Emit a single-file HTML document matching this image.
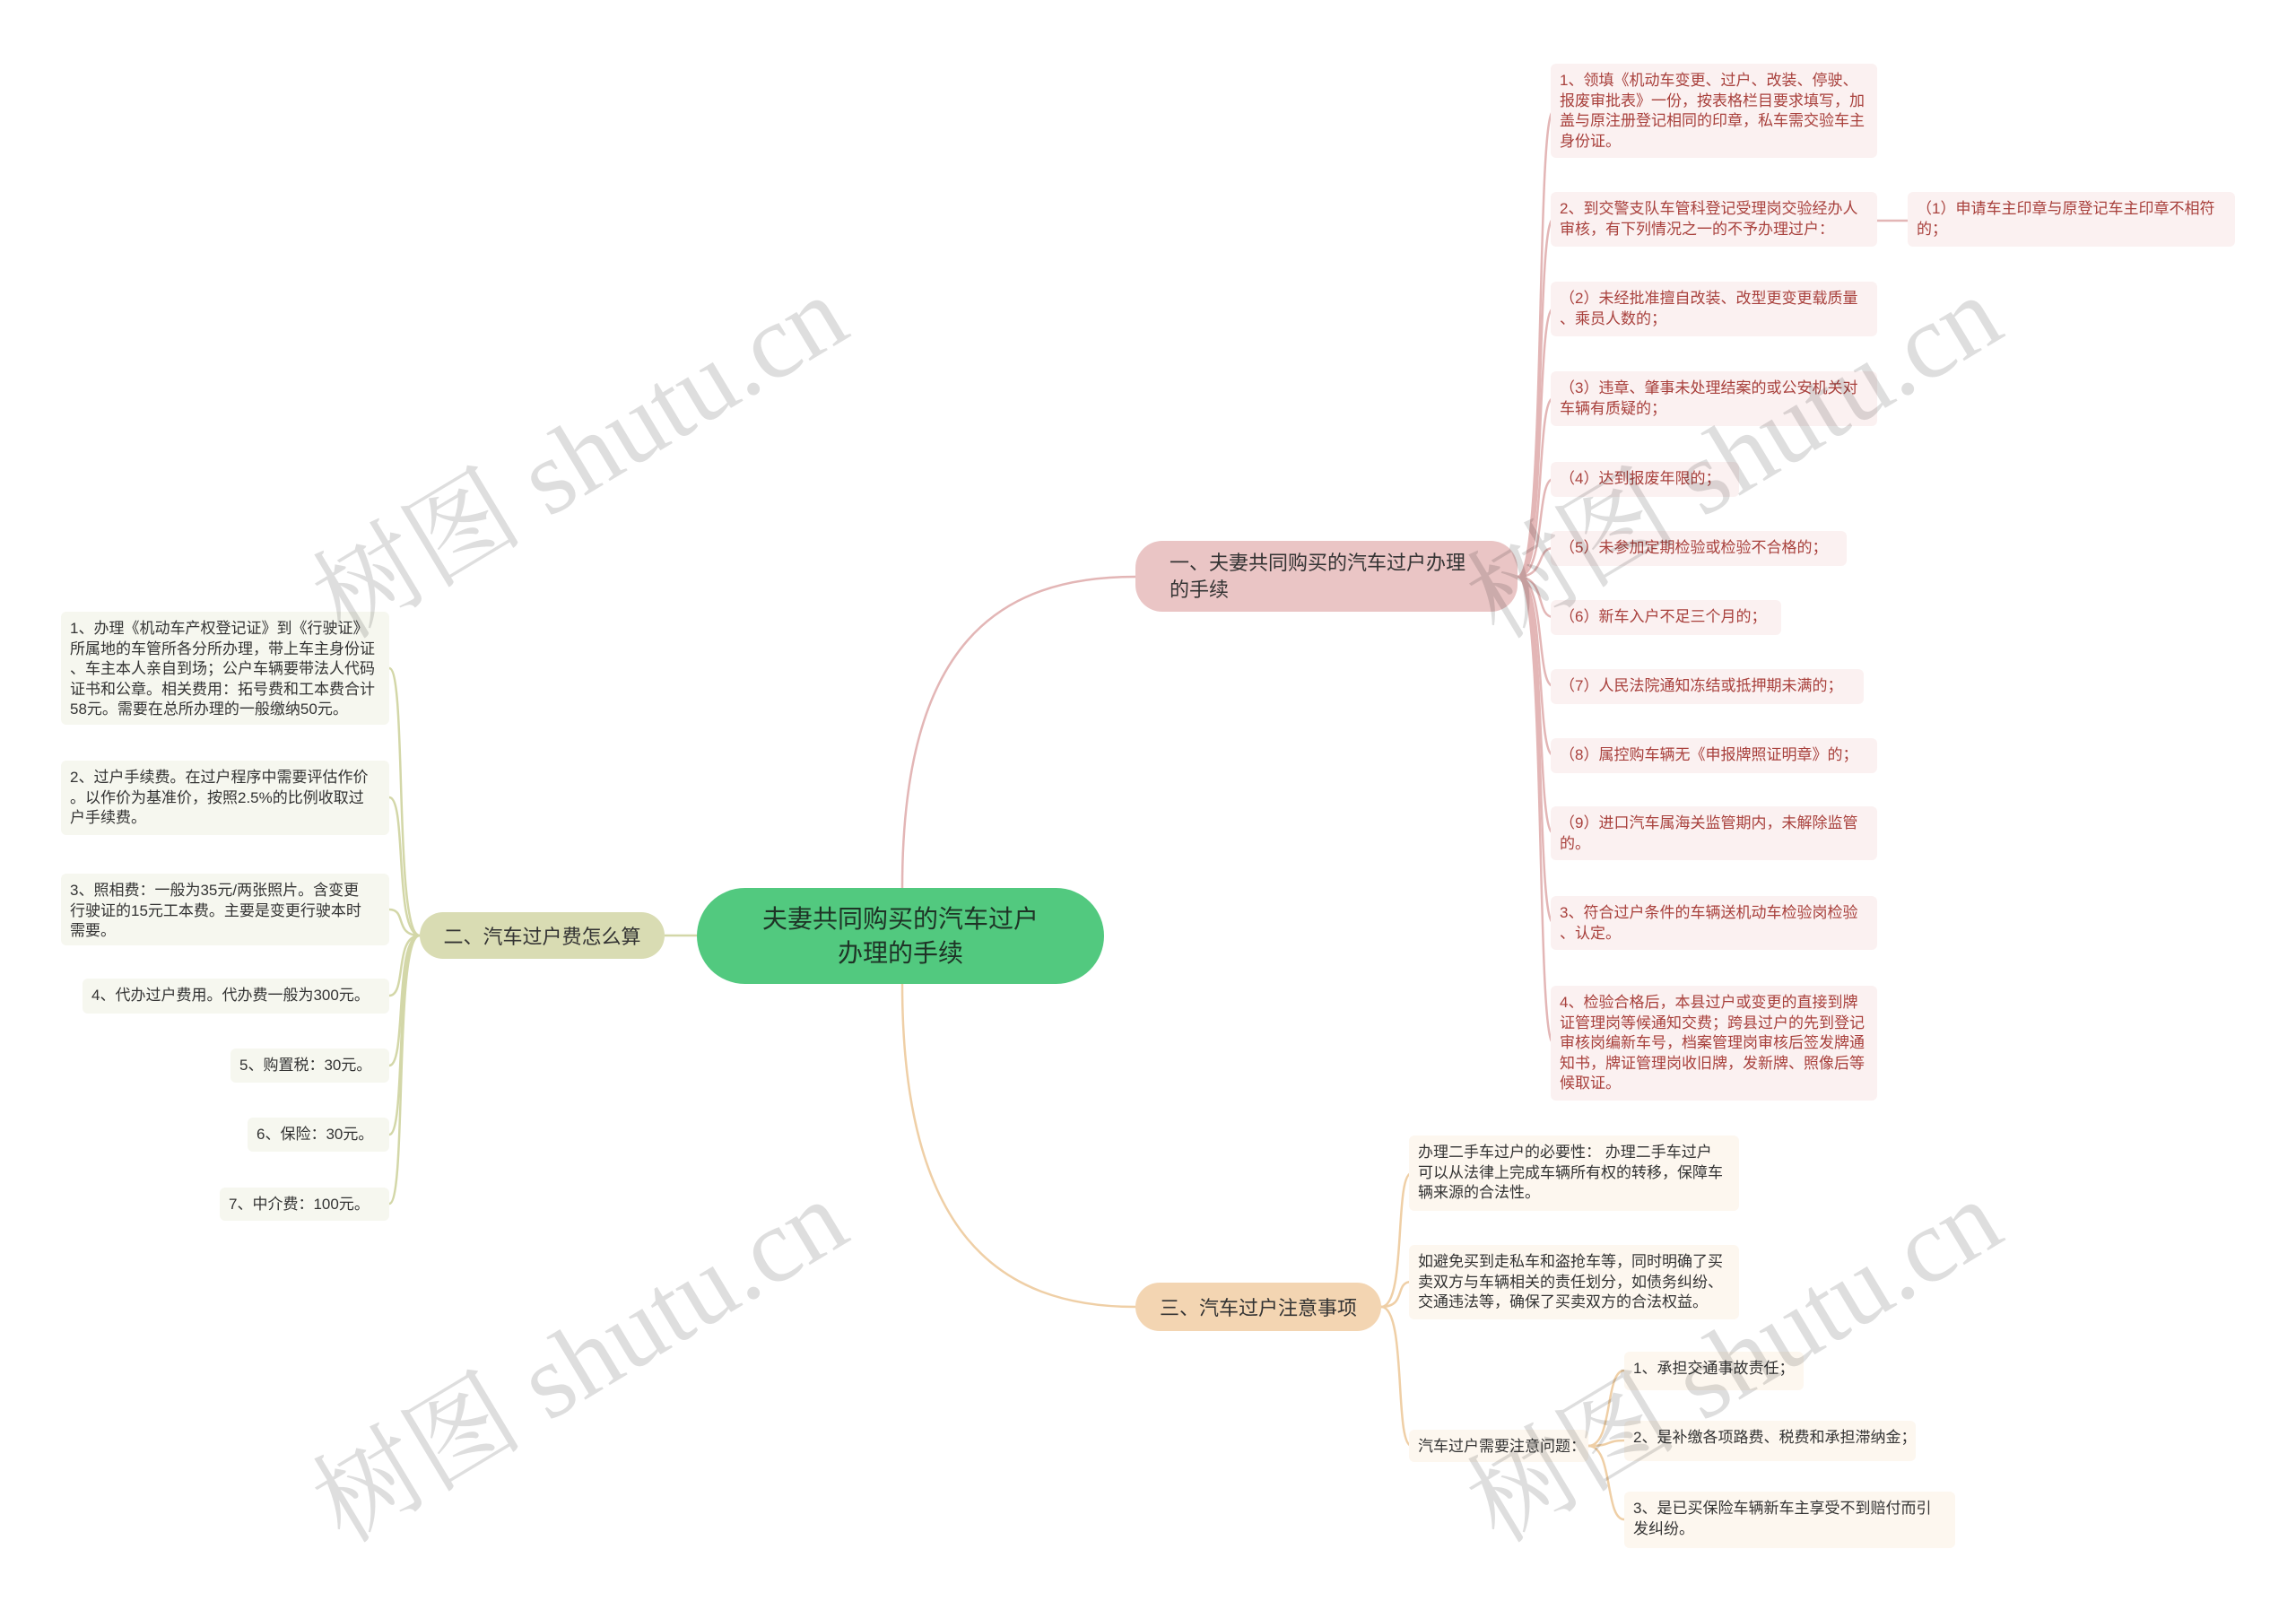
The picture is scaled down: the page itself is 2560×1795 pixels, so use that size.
<!DOCTYPE html>
<html><head><meta charset="utf-8"><style>
body{margin:0;width:2560px;height:1795px;background:#fff;position:relative;overflow:hidden;font-family:"Liberation Sans","Noto Sans CJK SC",sans-serif;}
#w{position:absolute;left:0;top:0;width:2560px;height:1795px;transform:translate(-6px,-4px);}
.n{position:absolute;box-sizing:border-box;white-space:nowrap;font-size:17px;line-height:22.5px;padding:8px 10px;border-radius:6px;}
.r{background:#fbf1f1;color:#a8403c;}
.g{background:#f6f7ef;color:#333;}
.o{background:#fdf7ef;color:#333;}
.b{position:absolute;box-sizing:border-box;border-radius:30px;display:flex;align-items:center;font-size:22px;color:#333;white-space:nowrap;}
.wm{position:absolute;font-family:"Liberation Serif","Noto Serif CJK SC",serif;font-size:118px;color:rgba(0,0,0,0.13);transform:rotate(-31deg);white-space:nowrap;transform-origin:center;}
</style></head><body><div id="w">
<svg width="2560" height="1795" style="position:absolute;left:0;top:0" fill="none" stroke-width="2.5">
<g stroke="#e3b6b6">
<path d="M1012,994 C1012,720 1120,647 1272,647"/>
<path d="M1698,647 C1730,647 1718,128 1738,128"/>
<path d="M1698,647 C1730,647 1718,248 1738,248"/>
<path d="M1698,647 C1730,647 1718,348 1738,348"/>
<path d="M1698,647 C1730,647 1718,448 1738,448"/>
<path d="M1698,647 C1730,647 1718,538 1738,538"/>
<path d="M1698,647 C1730,647 1718,615 1738,615"/>
<path d="M1698,647 C1730,647 1718,692 1738,692"/>
<path d="M1698,647 C1730,647 1718,769 1738,769"/>
<path d="M1698,647 C1730,647 1718,846 1738,846"/>
<path d="M1698,647 C1730,647 1718,933 1738,933"/>
<path d="M1698,647 C1730,647 1718,1033 1738,1033"/>
<path d="M1698,647 C1730,647 1718,1167 1738,1167"/>
<path d="M2099,250 L2133,250"/>
</g>
<g stroke="#d3d7a8">
<path d="M783,1047 L747,1047"/>
<path d="M474,1047 C445,1047 460,749 440,749"/>
<path d="M474,1047 C445,1047 460,893 440,893"/>
<path d="M474,1047 C445,1047 460,1018 440,1018"/>
<path d="M474,1047 C445,1047 460,1114 440,1114"/>
<path d="M474,1047 C445,1047 460,1192 440,1192"/>
<path d="M474,1047 C445,1047 460,1269 440,1269"/>
<path d="M474,1047 C445,1047 460,1346 440,1346"/>
</g>
<g stroke="#efcfa6">
<path d="M1012,1101 C1012,1380 1120,1461 1272,1461"/>
<path d="M1546,1461 C1575,1461 1560,1312 1580,1312"/>
<path d="M1546,1461 C1575,1461 1560,1433 1580,1433"/>
<path d="M1546,1461 C1575,1461 1560,1616 1580,1616"/>
<path d="M1777,1616 C1805,1616 1795,1532 1817,1532"/>
<path d="M1777,1616 C1805,1616 1795,1610 1817,1610"/>
<path d="M1777,1616 C1805,1616 1795,1698 1817,1698"/>
</g>
</svg>

<div class="b" style="left:783px;top:994px;width:454px;height:107px;background:#52c97f;border-radius:54px;justify-content:center;text-align:center;font-size:28px;line-height:38px;color:#1e3326;">夫妻共同购买的汽车过户<br>办理的手续</div>
<div class="b" style="left:1272px;top:607px;width:426px;height:79px;background:#eac5c5;padding-left:38px;line-height:30px;">一、夫妻共同购买的汽车过户办理<br>的手续</div>
<div class="b" style="left:474px;top:1021px;width:273px;height:52px;background:#d9dcb3;justify-content:center;">二、汽车过户费怎么算</div>
<div class="b" style="left:1272px;top:1434px;width:274px;height:54px;background:#f3d5b2;justify-content:center;">三、汽车过户注意事项</div>

<div class="n r" style="left:1735px;top:75px;width:364px;height:105px;">1、领填《机动车变更、过户、改装、停驶、<br>报废审批表》一份，按表格栏目要求填写，加<br>盖与原注册登记相同的印章，私车需交验车主<br>身份证。</div>
<div class="n r" style="left:1735px;top:218px;width:364px;height:61px;">2、到交警支队车管科登记受理岗交验经办人<br>审核，有下列情况之一的不予办理过户：</div>
<div class="n r" style="left:2133px;top:218px;width:365px;height:61px;">（1）申请车主印章与原登记车主印章不相符<br>的；</div>
<div class="n r" style="left:1735px;top:318px;width:364px;height:61px;">（2）未经批准擅自改装、改型更变更载质量<br>、乘员人数的；</div>
<div class="n r" style="left:1735px;top:418px;width:364px;height:61px;">（3）违章、肇事未处理结案的或公安机关对<br>车辆有质疑的；</div>
<div class="n r" style="left:1735px;top:519px;width:210px;height:39px;">（4）达到报废年限的；</div>
<div class="n r" style="left:1735px;top:596px;width:330px;height:39px;">（5）未参加定期检验或检验不合格的；</div>
<div class="n r" style="left:1735px;top:673px;width:257px;height:39px;">（6）新车入户不足三个月的；</div>
<div class="n r" style="left:1735px;top:750px;width:349px;height:39px;">（7）人民法院通知冻结或抵押期未满的；</div>
<div class="n r" style="left:1735px;top:827px;width:364px;height:39px;">（8）属控购车辆无《申报牌照证明章》的；</div>
<div class="n r" style="left:1735px;top:903px;width:364px;height:60px;">（9）进口汽车属海关监管期内，未解除监管<br>的。</div>
<div class="n r" style="left:1735px;top:1003px;width:364px;height:60px;">3、符合过户条件的车辆送机动车检验岗检验<br>、认定。</div>
<div class="n r" style="left:1735px;top:1103px;width:364px;height:128px;">4、检验合格后，本县过户或变更的直接到牌<br>证管理岗等候通知交费；跨县过户的先到登记<br>审核岗编新车号，档案管理岗审核后签发牌通<br>知书，牌证管理岗收旧牌，发新牌、照像后等<br>候取证。</div>

<div class="n g" style="left:74px;top:686px;width:366px;height:126px;"> 1、办理《机动车产权登记证》到《行驶证》<br>所属地的车管所各分所办理，带上车主身份证<br>、车主本人亲自到场；公户车辆要带法人代码<br>证书和公章。相关费用：拓号费和工本费合计<br>58元。需要在总所办理的一般缴纳50元。</div>
<div class="n g" style="left:74px;top:852px;width:366px;height:83px;"> 2、过户手续费。在过户程序中需要评估作价<br>。以作价为基准价，按照2.5%的比例收取过<br>户手续费。</div>
<div class="n g" style="left:74px;top:978px;width:366px;height:80px;"> 3、照相费：一般为35元/两张照片。含变更<br>行驶证的15元工本费。主要是变更行驶本时<br>需要。</div>
<div class="n g" style="left:98px;top:1095px;width:342px;height:39px;"> 4、代办过户费用。代办费一般为300元。</div>
<div class="n g" style="left:263px;top:1173px;width:177px;height:38px;"> 5、购置税：30元。</div>
<div class="n g" style="left:282px;top:1250px;width:158px;height:38px;"> 6、保险：30元。</div>
<div class="n g" style="left:251px;top:1328px;width:189px;height:37px;"> 7、中介费：100元。</div>

<div class="n o" style="left:1577px;top:1270px;width:368px;height:84px;">办理二手车过户的必要性： 办理二手车过户<br>可以从法律上完成车辆所有权的转移，保障车<br>辆来源的合法性。</div>
<div class="n o" style="left:1577px;top:1392px;width:368px;height:83px;">如避免买到走私车和盗抢车等，同时明确了买<br>卖双方与车辆相关的责任划分，如债务纠纷、<br>交通违法等，确保了买卖双方的合法权益。</div>
<div class="n o" style="left:1577px;top:1598px;width:200px;height:36px;">汽车过户需要注意问题：</div>
<div class="n o" style="left:1817px;top:1511px;width:200px;height:43px;">1、承担交通事故责任；</div>
<div class="n o" style="left:1817px;top:1588px;width:325px;height:45px;">2、是补缴各项路费、税费和承担滞纳金；</div>
<div class="n o" style="left:1817px;top:1667px;width:369px;height:63px;">3、是已买保险车辆新车主享受不到赔付而引<br>发纠纷。</div>
</div>

<div class="wm" style="left:310px;top:415px;">树图 shutu.cn</div>
<div class="wm" style="left:1597px;top:415px;">树图 shutu.cn</div>
<div class="wm" style="left:310px;top:1423px;">树图 shutu.cn</div>
<div class="wm" style="left:1597px;top:1423px;">树图 shutu.cn</div>
</body></html>
